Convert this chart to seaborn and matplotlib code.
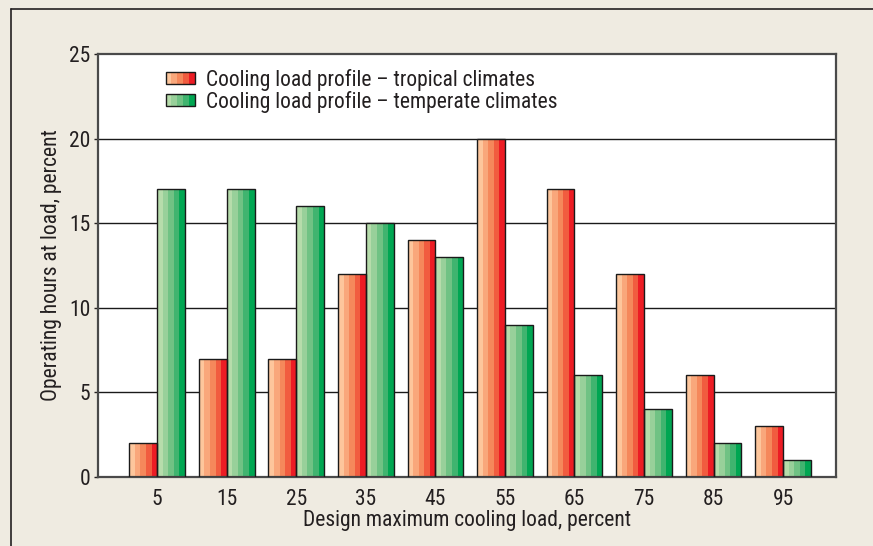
import matplotlib
matplotlib.use("Agg")
import matplotlib.pyplot as plt
from matplotlib.patches import Rectangle
from matplotlib.lines import Line2D
from matplotlib.legend_handler import HandlerBase
from matplotlib import font_manager
import seaborn as sns
import pandas as pd

# Data
loads = ["5", "15", "25", "35", "45", "55", "65", "75", "85", "95"]
tropical = [2, 7, 7, 12, 14, 20, 17, 12, 6, 3]
temperate = [17, 17, 16, 15, 13, 9, 6, 4, 2, 1]
series_names = ["Cooling load profile \u2013 tropical climates",
                "Cooling load profile \u2013 temperate climates"]

# Stripe colours, light to dark
red_stripes = ["#fdc69c", "#f9a77b", "#f5885b", "#f15c3f", "#ec1c24"]
green_stripes = ["#b6dcab", "#98d09a", "#70c284", "#40b46f", "#00a652"]

BG = "#efebe1"

# Prefer a narrow sans face when one is available
installed = {f.name for f in font_manager.fontManager.ttflist}
narrow = [n for n in ["Roboto Condensed", "Liberation Sans Narrow",
                      "DejaVu Sans"] if n in installed]

sns.set_theme(style="white")
plt.rcParams["font.family"] = narrow
plt.rcParams["font.stretch"] = "condensed"
plt.rcParams["text.color"] = "#231f20"
plt.rcParams["axes.labelcolor"] = "#231f20"
plt.rcParams["xtick.color"] = "#231f20"
plt.rcParams["ytick.color"] = "#231f20"

df = pd.DataFrame({
    "load": loads * 2,
    "hours": tropical + temperate,
    "profile": [series_names[0]] * len(loads) + [series_names[1]] * len(loads),
})

fig = plt.figure(figsize=(8.73, 5.46), dpi=100, facecolor=BG)
ax = fig.add_axes([0.1123, 0.1264, 0.8453, 0.7747])
ax.set_facecolor("white")

sns.barplot(data=df, x="load", y="hours", hue="profile", order=loads,
            hue_order=series_names, palette=[red_stripes[-1], green_stripes[-1]],
            width=0.8, edgecolor="#1a1a1a", linewidth=1.0, legend=False,
            errorbar=None, ax=ax, zorder=3)

# Replace flat fills with vertical stripe gradients
for container, stripes in zip(ax.containers, [red_stripes, green_stripes]):
    for bar in container:
        x0, y0 = bar.get_x(), bar.get_y()
        w, h = bar.get_width(), bar.get_height()
        sw = w / len(stripes)
        for k, c in enumerate(stripes):
            ax.add_patch(Rectangle((x0 + k * sw, y0), sw, h, facecolor=c,
                                   edgecolor="none", zorder=2.5))
        bar.set_facecolor("none")

ax.set_ylim(0, 25)
ax.set_xlim(-0.85, 9.76)
ax.set_yticks([0, 5, 10, 15, 20, 25])
for yv in [5, 10, 15, 20]:
    ax.axhline(yv, color="#1a1a1a", linewidth=1.0, zorder=1)

for s in ax.spines.values():
    s.set_color("#4a4a4a")
    s.set_linewidth(1.6)
    s.set_visible(True)

ax.tick_params(axis="y", which="both", left=True, length=3, width=1,
               labelsize=15.5, pad=2.5)
ax.tick_params(axis="x", bottom=False, labelsize=15.5, pad=3)
ax.set_xlabel("Design maximum cooling load, percent", fontsize=15.5, labelpad=0)
ax.set_ylabel("Operating hours at load, percent", fontsize=15.5, labelpad=5)


class StripeHandler(HandlerBase):
    def __init__(self, stripes):
        super().__init__()
        self.stripes = stripes

    def create_artists(self, legend, orig_handle, xdescent, ydescent,
                       width, height, fontsize, trans):
        arts = []
        sw = width / len(self.stripes)
        for k, c in enumerate(self.stripes):
            arts.append(Rectangle((-xdescent + k * sw, -ydescent), sw, height,
                                  facecolor=c, edgecolor="none", transform=trans))
        arts.append(Rectangle((-xdescent, -ydescent), width, height,
                              facecolor="none", edgecolor="#1a1a1a",
                              linewidth=1.0, transform=trans))
        return arts


h1 = Rectangle((0, 0), 1, 1)
h2 = Rectangle((0, 0), 1, 1)
ax.legend([h1, h2], series_names, loc="upper left",
          bbox_to_anchor=(0.074, 0.996), frameon=False, fontsize=15.5,
          handlelength=1.35, handleheight=0.55, handletextpad=0.55,
          labelspacing=0.0, borderaxespad=0.2,
          handler_map={h1: StripeHandler(red_stripes),
                       h2: StripeHandler(green_stripes)})

# Outer panel border (left and top)
fig.add_artist(Line2D([10.5 / 873, 10.5 / 873], [0, 1 - 8.5 / 546],
                      transform=fig.transFigure, color="#231f20", linewidth=1.2))
fig.add_artist(Line2D([10.5 / 873, 1], [1 - 8.5 / 546, 1 - 8.5 / 546],
                      transform=fig.transFigure, color="#231f20", linewidth=1.2))

fig.savefig("out.png", dpi=100, facecolor=BG)
